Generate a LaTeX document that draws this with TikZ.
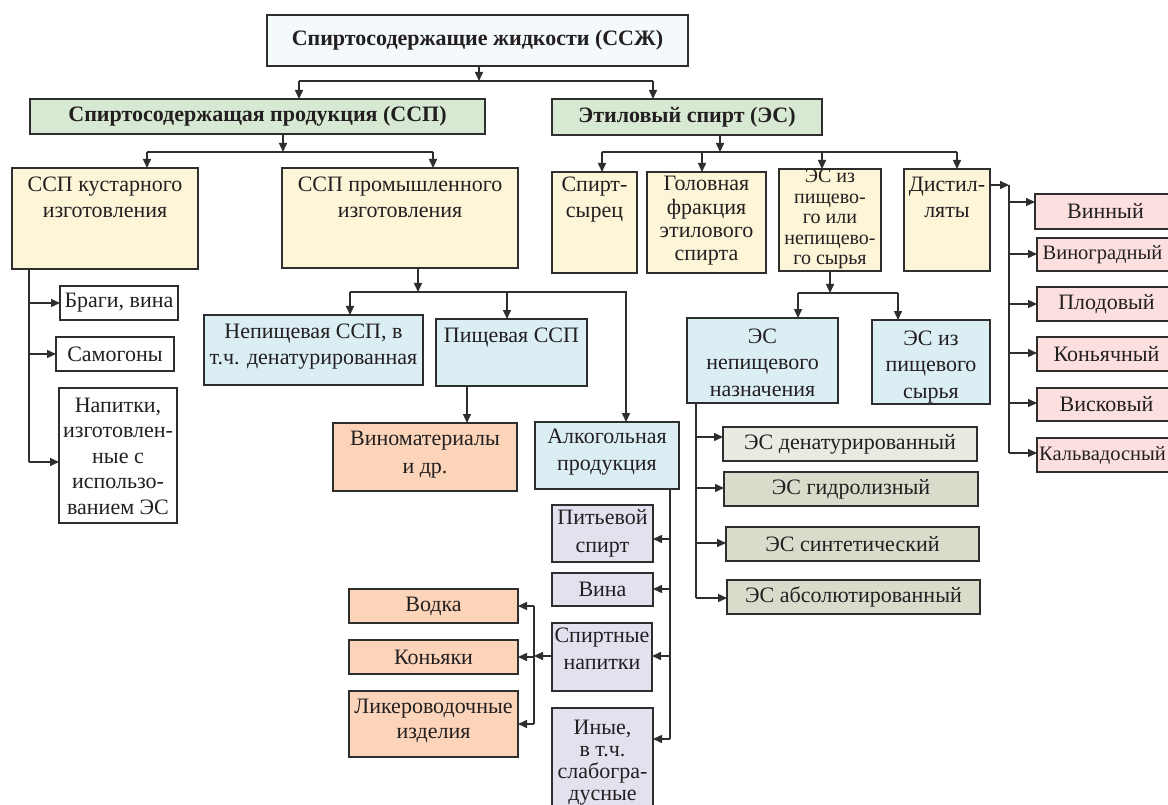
\documentclass[tikz,border=0pt]{standalone}
\usepackage{fontspec}
\setmainfont{Liberation Serif}
\usetikzlibrary{arrows.meta,calc}
\definecolor{lc}{HTML}{2E2E2E}
\definecolor{tc}{HTML}{231F20}
\definecolor{cTop}{HTML}{F4F9FB}
\definecolor{cGreen}{HTML}{D7E9D3}
\definecolor{cYellow}{HTML}{FCF5D7}
\definecolor{cBlue}{HTML}{DAEEF3}
\definecolor{cPeach}{HTML}{FBD4BA}
\definecolor{cPink}{HTML}{FCE0E0}
\definecolor{cLav}{HTML}{E4E1EF}
\definecolor{cGa}{HTML}{E8EBE1}
\definecolor{cGb}{HTML}{D8DCCB}
\newcommand\fsn{\fontsize{22}{25.5}\selectfont}
% top-aligned box: name x y w h fill baseline-offset font text
\newcommand\bxt[9]{%
  \node[box,fill=#6,minimum width=#4pt,minimum height=#5pt] (#1) at (#2,#3) {};
  \node[txt,anchor=base] (#1t) at ([yshift=-#7pt]#1.north) {\parbox[t]{#4pt}{\centering#8 #9}};}
% centred box: name x y w h fill font text
\newcommand\bxc[8]{%
  \node[box,fill=#6,minimum width=#4pt,minimum height=#5pt] (#1) at (#2,#3) {};
  \node[txt,anchor=center] (#1t) at (#1.center) {\parbox{#4pt}{\centering#7 #8}};}
% box running off the right edge: text centred on the visible part
\newcommand\bxr[7]{%
  \node[box,fill=#6,minimum width=#4pt,minimum height=#5pt] (#1) at (#2,#3) {};
  \node[txt,anchor=center] (#1t) at ([xshift=-4pt]#1.center) {\fontsize{20.5}{24}\selectfont #7};}
\begin{document}
\begin{tikzpicture}[x=1pt,y=-1pt,
  box/.style={draw=lc,line width=1.4pt,anchor=north west,inner sep=0pt,outer sep=0pt},
  txt/.style={inner sep=0pt,outer sep=0pt,text=tc},
  ln/.style={draw=lc,line width=1.5pt},
  arr/.style={ln,-{Triangle[length=9pt,width=8pt]}}]
\useasboundingbox (0,0) rectangle (1168,805);
\fill[white] (0,0) rectangle (1168,805);

\bxc{top}{267}{15}{421}{51}{cTop}{\fsn\bfseries}{Спиртосодержащие жидкости (ССЖ)}
\bxc{ssp}{30}{99}{455}{35}{cGreen}{\fsn\bfseries}{Спиртосодержащая продукция (ССП)}
\bxc{es}{552}{99}{270}{36}{cGreen}{\fsn\bfseries}{Этиловый спирт (ЭС)}

\bxt{kust}{12}{168}{186}{101}{cYellow}{24}{\fsn}{ССП кустарного\\изготовления}
\bxt{prom}{282}{168}{236}{100}{cYellow}{24}{\fsn}{ССП промышленного\\изготовления}
\bxt{syr}{552}{172}{85}{101}{cYellow}{20}{\fontsize{22}{26}\selectfont}{Спирт-\\сырец}
\bxt{gol}{647}{172}{119}{101}{cYellow}{19}{\fontsize{22}{23.3}\selectfont}{Головная\\фракция\\этилового\\спирта}
\bxt{esiz}{779}{169}{102}{102}{cYellow}{14}{\fontsize{20}{20.5}\selectfont}{ЭС из\\пищево-\\го или\\непищево-\\го сырья}
\bxt{dist}{904}{169}{86}{102}{cYellow}{23}{\fontsize{22}{26}\selectfont}{Дистил-\\ляты}

\bxc{brag}{60}{286}{118}{34}{white}{\fsn}{Браги, вина}
\bxc{sam}{56}{337}{118}{34}{white}{\fsn}{Самогоны}
\bxt{nap}{59}{388}{118}{135}{white}{24}{\fsn}{Напитки,\\изготовлен-\\ные с\\использо-\\ванием ЭС}

\bxt{nepish}{204}{315}{219}{70}{cBlue}{23}{\fontsize{22}{26}\selectfont}{Непищевая ССП, в\\т.ч. денатурированная}
\bxt{pish}{436}{319}{151}{67}{cBlue}{23}{\fsn}{Пищевая ССП}
\bxt{vinm}{333}{423}{184}{68}{cPeach}{22}{\fontsize{22}{28}\selectfont}{Виноматериалы\\и др.}
\bxt{alk}{535}{422}{144}{67}{cBlue}{21}{\fontsize{22}{27}\selectfont}{Алкогольная\\продукция}

\bxt{esnep}{687}{318}{151}{85}{cBlue}{25}{\fontsize{22}{26.5}\selectfont}{ЭС\\непищевого\\назначения}
\bxt{espish}{872}{320}{118}{84}{cBlue}{25}{\fontsize{22}{26.5}\selectfont}{ЭС из\\пищевого\\сырья}

\bxc{p1}{1035}{194}{141}{35}{cPink}{\fsn}{Винный}
\bxr{p2}{1037}{238}{139}{33}{cPink}{Виноградный}
\bxc{p3}{1037}{287}{139}{34}{cPink}{\fsn}{Плодовый}
\bxc{p4}{1037}{337}{139}{34}{cPink}{\fsn}{Коньячный}
\bxc{p5}{1037}{388}{139}{33}{cPink}{\fsn}{Висковый}
\bxr{p6}{1037}{438}{139}{34}{cPink}{Кальвадосный}

\bxc{esden}{723}{427}{254}{34}{cGa}{\fsn}{ЭС денатурированный}
\bxc{esgid}{724}{472}{254}{34}{cGb}{\fsn}{ЭС гидролизный}
\bxc{essin}{726}{527}{253}{34}{cGb}{\fsn}{ЭС синтетический}
\bxc{esabs}{727}{580}{253}{34}{cGb}{\fsn}{ЭС абсолютированный}

\bxc{pit}{552}{505}{101}{57}{cLav}{\fontsize{22}{28}\selectfont}{Питьевой\\спирт}
\bxc{vina}{552}{573}{101}{33}{cLav}{\fsn}{Вина}
\bxt{spn}{552}{623}{100}{68}{cLav}{19}{\fontsize{22}{27}\selectfont}{Спиртные\\напитки}
\bxt{iny}{552}{708}{101}{112}{cLav}{26}{\fontsize{22}{22}\selectfont}{Иные,\\в т.ч.\\слабогра-\\дусные}

\bxc{vodka}{349}{589}{169}{34}{cPeach}{\fsn}{Водка}
\bxc{kon}{349}{640}{169}{34}{cPeach}{\fsn}{Коньяки}
\bxt{liker}{349}{691}{169}{66}{cPeach}{22}{\fontsize{22}{25}\selectfont}{Ликероводочные\\изделия}

% ---- connectors ----
% level 0 -> 1
\coordinate (j0) at (479,81); \coordinate (j0l) at (299,81); \coordinate (j0r) at (653,81);
\draw[arr] (top.south -| j0) -- (j0);
\draw[ln] (j0l) -- (j0r);
\draw[arr] (j0l) -- (j0l |- ssp.north);
\draw[arr] (j0r) -- (j0r |- es.north);
% SSP bus
\coordinate (j1) at (283,152); \coordinate (j1l) at (147,152); \coordinate (j1r) at (433,152);
\draw[arr] (ssp.south -| j1) -- (j1);
\draw[ln] (j1l) -- (j1r);
\draw[arr] (j1l) -- (j1l |- kust.north);
\draw[arr] (j1r) -- (j1r |- prom.north);
% ES bus
\coordinate (j2) at (720,152); \coordinate (j2a) at (602,152); \coordinate (j2b) at (702,152);
\coordinate (j2c) at (822,152); \coordinate (j2d) at (957,152);
\draw[arr] (es.south -| j2) -- (j2);
\draw[ln] (j2a) -- (j2d);
\draw[arr] (j2a) -- (j2a |- syr.north);
\draw[arr] (j2b) -- (j2b |- gol.north);
\draw[arr] (j2c) -- (j2c |- esiz.north);
\draw[arr] (j2d) -- (j2d |- dist.north);
% kustarnoe
\coordinate (kv) at (29,0); \coordinate (kb) at (29,462);
\draw[ln] (kv |- kust.south) -- (kb);
\draw[arr] (kv |- brag.west) -- (brag.west);
\draw[arr] (kv |- sam.west) -- (sam.west);
\draw[arr] (kb) -- (kb -| nap.west);
% promyshlennoe
\coordinate (j3) at (418,292); \coordinate (j3l) at (350,292); \coordinate (j3m) at (507,292);
\coordinate (j3r) at (626,292);
\draw[arr] (prom.south -| j3) -- (j3);
\draw[arr] (j3l) -- (j3r) -- (j3r |- alk.north);
\draw[arr] (j3l) -- (j3l |- nepish.north);
\draw[arr] (j3m) -- (j3m |- pish.north);
\coordinate (pv) at (467,0);
\draw[arr] (pv |- pish.south) -- (pv |- vinm.north);
% alkogolnaya
\coordinate (av) at (670,0);
\coordinate (a1) at (670,539); \coordinate (a2) at (670,589);
\coordinate (a3) at (670,656); \coordinate (a4) at (670,739);
\draw[ln] (av |- alk.south) -- (a4);
\draw[arr] (a1) -- (a1 -| pit.east);
\draw[arr] (a2) -- (a2 -| vina.east);
\draw[arr] (a3) -- (a3 -| spn.east);
\draw[arr] (a4) -- (a4 -| iny.east);
% spirtnye napitki
\coordinate (sv) at (534,0);
\draw[arr] (spn.west |- a3) -- (sv |- a3);
\draw[ln] (sv |- vodka.east) -- (sv |- liker.east);
\draw[arr] (sv |- vodka.east) -- (vodka.east);
\draw[arr] (sv |- kon.east) -- (kon.east);
\draw[arr] (sv |- liker.east) -- (liker.east);
% ES iz pishchevogo...
\coordinate (j4) at (830,293); \coordinate (j4l) at (798,293); \coordinate (j4r) at (898,293);
\draw[arr] (esiz.south -| j4) -- (j4);
\draw[ln] (j4l) -- (j4r);
\draw[arr] (j4l) -- (j4l |- esnep.north);
\draw[arr] (j4r) -- (j4r |- espish.north);
% ES nepishchevogo
\coordinate (ev) at (696,0);
\coordinate (e1) at (696,437); \coordinate (e2) at (696,488);
\coordinate (e3) at (696,543); \coordinate (e4) at (696,598);
\draw[ln] (ev |- esnep.south) -- (e4);
\draw[arr] (e1) -- (e1 -| esden.west);
\draw[arr] (e2) -- (e2 -| esgid.west);
\draw[arr] (e3) -- (e3 -| essin.west);
\draw[arr] (e4) -- (e4 -| esabs.west);
% distillyaty
\coordinate (d0) at (1009,185);
\coordinate (dd1) at (1009,202); \coordinate (dd2) at (1009,254); \coordinate (dd3) at (1009,304);
\coordinate (dd4) at (1009,353); \coordinate (dd5) at (1009,403); \coordinate (dd6) at (1009,453);
\draw[arr] (d0 -| dist.east) -- (d0);
\draw[ln] (d0) -- (dd6);
\draw[arr] (dd1) -- (dd1 -| p1.west);
\draw[arr] (dd2) -- (dd2 -| p2.west);
\draw[arr] (dd3) -- (dd3 -| p3.west);
\draw[arr] (dd4) -- (dd4 -| p4.west);
\draw[arr] (dd5) -- (dd5 -| p5.west);
\draw[arr] (dd6) -- (dd6 -| p6.west);
\end{tikzpicture}
\end{document}
